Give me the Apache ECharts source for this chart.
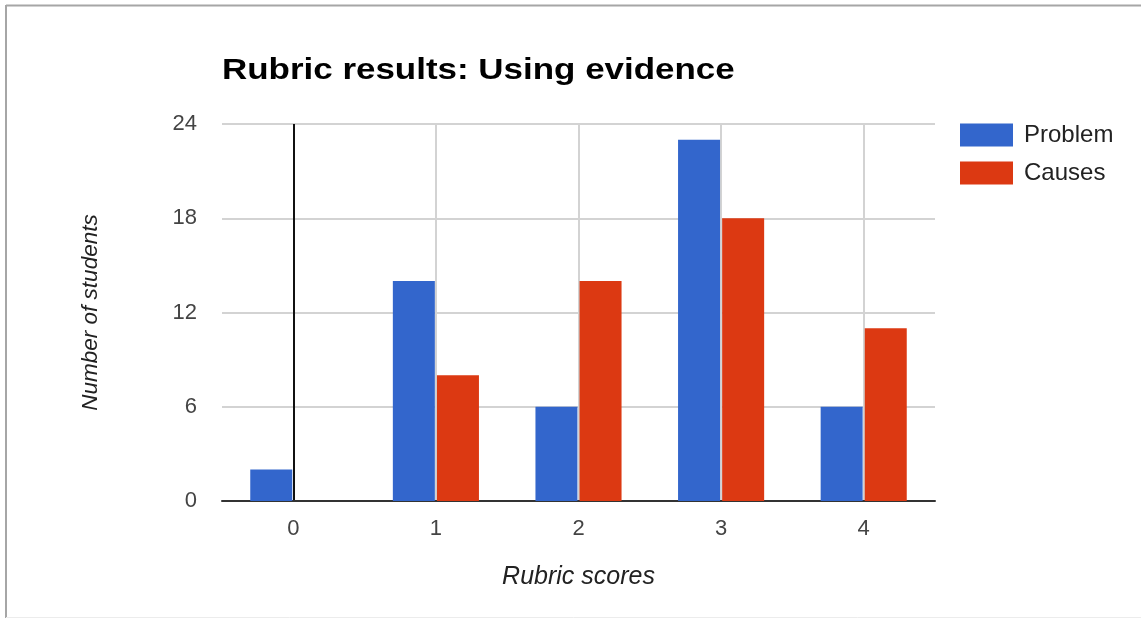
<!DOCTYPE html>
<html>
<head>
<meta charset="utf-8">
<title>Rubric results: Using evidence</title>
<script src="https://cdn.jsdelivr.net/npm/echarts@6/dist/echarts.min.js"></script>
<style>
  html, body { margin: 0; padding: 0; background: #fff; }
  #chart { width: 1141px; height: 618px; }
</style>
</head>
<body>
<div id="chart"></div>
<script>
// Rubric score categories on the horizontal axis
const scores = ['0', '1', '2', '3', '4'];
// Number of students at each score, per rubric item
const problemCounts = [2, 14, 6, 23, 6];
const causesCounts = [0, 8, 14, 18, 11];
// Vertical axis ticks
const countTicks = [0, 6, 12, 18, 24];

const chartTitle = 'Rubric results: Using evidence';
const xTitle = 'Rubric scores';
const yTitle = 'Number of students';

const FONT = '"Liberation Sans", Arial, sans-serif';

const chart = echarts.init(document.getElementById('chart'), null, { renderer: 'canvas' });

chart.setOption({
  backgroundColor: '#ffffff',
  animation: false,
  textStyle: { fontFamily: FONT },
  grid: { left: 222, right: 206, top: 124, bottom: 117, containLabel: false },
  graphic: [
    // frame around the chart
    { type: 'line', silent: true, shape: { x1: 6, y1: 5.5, x2: 1141, y2: 5.5 },
      style: { stroke: '#a6a6a6', lineWidth: 2 } },
    { type: 'line', silent: true, shape: { x1: 6, y1: 5, x2: 6, y2: 618 },
      style: { stroke: '#a6a6a6', lineWidth: 2 } },
    { type: 'line', silent: true, shape: { x1: 6, y1: 617.5, x2: 1141, y2: 617.5 },
      style: { stroke: '#ececec', lineWidth: 1 } },
    // chart heading, drawn slightly wide
    { type: 'text', silent: true, x: 222, y: 71, scaleX: 1.165, scaleY: 1,
      style: { text: chartTitle, font: 'bold 30px ' + FONT, fill: '#000',
               verticalAlign: 'middle', align: 'left' } }
  ],
  legend: {
    orient: 'vertical',
    left: 960,
    top: 123,
    padding: 0,
    icon: 'rect',
    itemWidth: 53,
    itemHeight: 23,
    itemGap: 14,
    selectedMode: false,
    textStyle: { fontSize: 24, color: '#222', fontFamily: FONT, padding: [0, 0, 0, 6] },
    data: ['Problem', 'Causes']
  },
  xAxis: {
    type: 'category',
    data: scores,
    boundaryGap: true,
    name: xTitle,
    nameLocation: 'middle',
    nameGap: 64,
    nameTextStyle: { fontSize: 25, fontStyle: 'italic', color: '#222', fontFamily: FONT },
    axisLine: { show: true, lineStyle: { color: '#333', width: 2 } },
    axisTick: { show: false },
    axisLabel: { fontSize: 22, color: '#444', margin: 17, fontFamily: FONT, interval: 0 },
    splitLine: {
      show: true,
      alignWithLabel: true,
      interval: 0,
      lineStyle: { color: ['#111', '#d3d3d3', '#d3d3d3', '#d3d3d3', '#d3d3d3'], width: 2 }
    }
  },
  yAxis: {
    type: 'value',
    min: countTicks[0],
    max: countTicks[countTicks.length - 1],
    interval: countTicks[1] - countTicks[0],
    name: yTitle,
    nameLocation: 'middle',
    nameGap: 120,
    nameTextStyle: { fontSize: 22.5, fontStyle: 'italic', color: '#222', fontFamily: FONT },
    axisLine: { show: false },
    axisTick: { show: false },
    axisLabel: { fontSize: 22, color: '#444', margin: 25, fontFamily: FONT },
    splitLine: { show: true, lineStyle: { color: '#d3d3d3', width: 2 } }
  },
  series: [
    {
      name: 'Problem',
      type: 'bar',
      data: problemCounts,
      barWidth: 42,
      barGap: '5%',
      itemStyle: { color: '#3366cc' }
    },
    {
      name: 'Causes',
      type: 'bar',
      data: causesCounts,
      barWidth: 42,
      barGap: '5%',
      itemStyle: { color: '#dc3912' }
    }
  ]
});
</script>
</body>
</html>
